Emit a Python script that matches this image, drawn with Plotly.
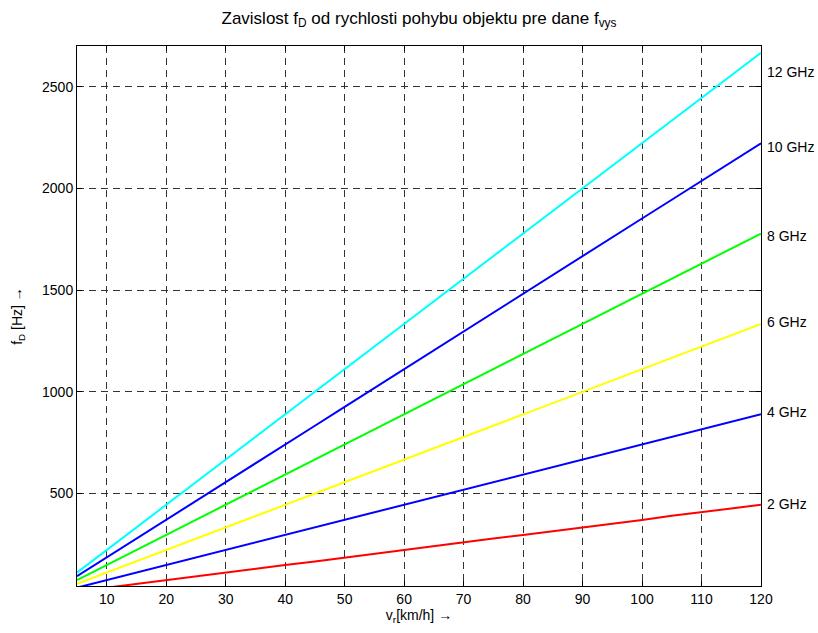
import plotly.graph_objects as go

speed_kmh = [5, 10, 15, 20, 25, 30, 35, 40, 45, 50, 55, 60,
             65, 70, 75, 80, 85, 90, 95, 100, 105, 110, 115, 120]

fd_2ghz = [18, 37, 56, 74, 92, 111, 130, 148, 166, 185, 205, 222,
           240, 260, 278, 296, 314, 333, 352, 370, 390, 407, 425, 444]
fd_4ghz = [37, 74, 111, 148, 185, 222, 259, 296, 333, 370, 407, 444,
           481, 519, 556, 593, 630, 667, 704, 741, 778, 815, 852, 889]
fd_6ghz = [56, 111, 167, 222, 278, 333, 389, 444, 500, 556, 611, 667,
           722, 778, 833, 889, 944, 1000, 1056, 1111, 1167, 1222, 1278, 1333]
fd_8ghz = [74, 148, 222, 296, 370, 444, 519, 593, 667, 741, 815, 889,
           963, 1037, 1111, 1185, 1259, 1333, 1407, 1481, 1556, 1630, 1704, 1778]
fd_10ghz = [93, 185, 278, 370, 463, 556, 648, 741, 833, 926, 1019, 1111,
            1204, 1296, 1389, 1481, 1574, 1667, 1759, 1852, 1944, 2037, 2130, 2222]
fd_12ghz = [111, 222, 333, 444, 556, 667, 778, 889, 1000, 1111, 1222, 1333,
            1444, 1556, 1667, 1778, 1889, 2000, 2111, 2222, 2333, 2444, 2556, 2667]

series_names = ["2 GHz", "4 GHz", "6 GHz", "8 GHz", "10 GHz", "12 GHz"]
series_values = [fd_2ghz, fd_4ghz, fd_6ghz, fd_8ghz, fd_10ghz, fd_12ghz]
series_colors = ["#FF0000", "#0000FF", "#FFFF00", "#00FF00", "#0000FF", "#00FFFF"]
label_y = [450, 900, 1345, 1765, 2205, 2570]

x_ticks = [10, 20, 30, 40, 50, 60, 70, 80, 90, 100, 110, 120]
y_ticks = [500, 1000, 1500, 2000, 2500]

FONT = "Liberation Sans, Arial, sans-serif"

fig = go.Figure()
for name, vals, col in zip(series_names, series_values, series_colors):
    fig.add_trace(go.Scatter(x=speed_kmh, y=vals, mode="lines", name=name,
                             line=dict(color=col, width=2), showlegend=False))

for name, yv in zip(series_names, label_y):
    fig.add_annotation(x=120, y=yv, xref="x", yref="y", text=name,
                       showarrow=False, xanchor="left", yanchor="middle",
                       xshift=4, font=dict(family=FONT, size=14, color="black"))

axis_common = dict(showline=True, linecolor="black", linewidth=1, mirror="ticks",
                   ticks="inside", ticklen=5, tickcolor="black",
                   showgrid=True, gridcolor="#333333", gridwidth=1, griddash="7px,5px",
                   zeroline=False, tickfont=dict(family=FONT, size=14, color="black"))

fig.update_xaxes(range=[5, 120], tickvals=x_ticks, **axis_common,
                 title=dict(text="v<sub>r</sub>[km/h] →", standoff=4,
                            font=dict(family=FONT, size=14, color="black")))
fig.update_yaxes(range=[45, 2700], tickvals=y_ticks, **axis_common,
                 title=dict(text="f<sub>D</sub> [Hz] →", standoff=16,
                            font=dict(family=FONT, size=14, color="black")))

fig.update_layout(
    width=818, height=633,
    margin=dict(l=77, r=57, t=46, b=44),
    paper_bgcolor="white", plot_bgcolor="white",
    title=dict(text="Zavislost f<sub>D</sub> od rychlosti pohybu objektu pre dane f<sub>vys</sub>",
               x=0.5, xref="paper", y=0.972, yanchor="middle",
               font=dict(family=FONT, size=17, color="black")),
    font=dict(family=FONT, color="black"),
)

fig.write_html("out.html",
               config={"displayModeBar": False},
               post_script="document.body.style.margin='0';document.body.style.overflow='hidden';")
